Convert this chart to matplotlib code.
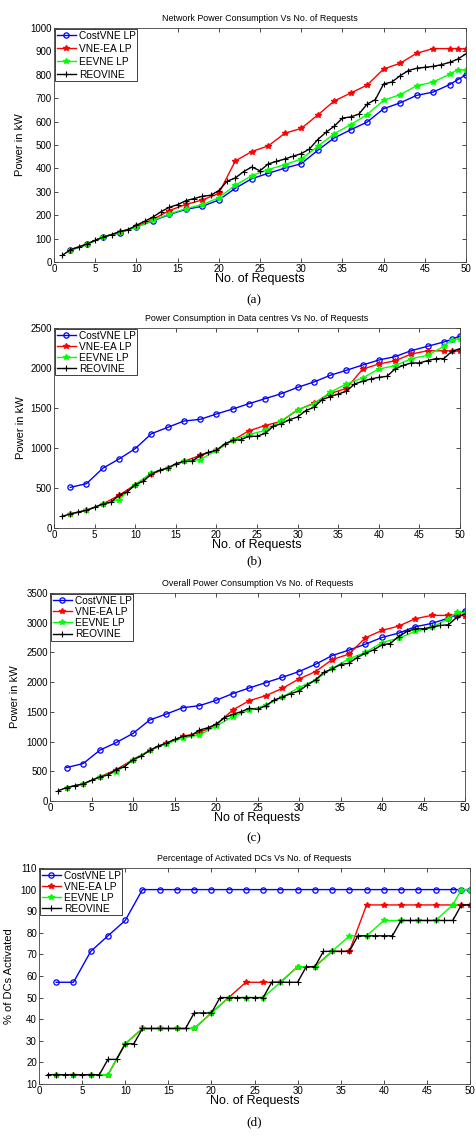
import matplotlib
matplotlib.use('Agg')
import matplotlib.pyplot as plt

plt.rcParams['font.family'] = ['Liberation Sans', 'DejaVu Sans']

# X VALUES: THE LP SCHEMES ARE MARKED ON EVEN REQUESTS (+49), REOVINE ON EVERY REQUEST
x_even = [2, 4, 6, 8, 10, 12, 14, 16, 18, 20, 22, 24, 26, 28, 30, 32, 34, 36, 38, 40,
          42, 44, 46, 48, 49, 50]
x_all = list(range(1, 51))

series_names = ['CostVNE LP', 'VNE-EA LP', 'EEVNE LP', 'REOVINE']

# (a) NETWORK POWER (kW)
net_cost = [50, 75, 108, 125, 150, 176, 203, 225, 238, 265, 315, 356, 379, 401, 420, 477,
            530, 565, 598, 655, 680, 712, 726, 758, 779, 800]
net_ea = [53, 77, 107, 128, 152, 182, 220, 246, 265, 293, 432, 472, 496, 550, 571, 628,
          688, 722, 756, 825, 849, 892, 912, 912, 912, 910]
net_eevne = [50, 75, 107, 128, 148, 178, 205, 228, 245, 275, 328, 369, 395, 416, 440, 494,
             548, 587, 630, 691, 715, 753, 769, 802, 822, 820]
net_reovine = [28, 53, 64, 77, 93, 107, 117, 131, 138, 157,
               174, 192, 215, 234, 245, 262, 271, 281, 285, 305,
               345, 359, 386, 406, 390, 419, 430, 440, 452, 463,
               483, 523, 554, 580, 615, 620, 632, 675, 694, 761,
               769, 796, 818, 828, 832, 836, 843, 853, 867, 890]

# (b) DATA CENTRE POWER (kW)
dc_cost = [508, 554, 746, 862, 992, 1179, 1258, 1337, 1358, 1425, 1487, 1554, 1617, 1679,
           1758, 1825, 1908, 1971, 2037, 2100, 2142, 2217, 2271, 2325, 2360, 2400]
dc_ea = [175, 221, 300, 408, 542, 675, 750, 833, 908, 971, 1096, 1215, 1280, 1335, 1475,
         1560, 1680, 1745, 1985, 2050, 2090, 2175, 2215, 2215, 2215, 2208]
dc_eevne = [175, 221, 300, 355, 542, 690, 750, 833, 855, 971, 1096, 1165, 1222, 1340, 1479,
            1550, 1696, 1800, 1875, 1987, 2029, 2117, 2158, 2271, 2354, 2362]
dc_reovine = [146, 175, 200, 221, 258, 300, 321, 408, 450, 542,
              583, 675, 721, 750, 804, 833, 833, 908, 946, 971,
              1050, 1096, 1104, 1146, 1146, 1183, 1271, 1304, 1354, 1388,
              1467, 1508, 1604, 1642, 1675, 1708, 1800, 1833, 1863, 1883,
              1896, 1988, 2033, 2063, 2063, 2092, 2117, 2117, 2208, 2242]

# (c) OVERALL POWER (kW)
all_cost = [563, 630, 855, 985, 1137, 1362, 1463, 1570, 1604, 1694, 1806, 1902, 1992, 2082,
            2178, 2301, 2448, 2538, 2639, 2752, 2825, 2932, 2988, 3078, 3134, 3202]
all_ea = [225, 287, 405, 529, 698, 850, 973, 1086, 1150, 1280, 1530, 1688, 1772, 1896,
          2054, 2178, 2380, 2470, 2746, 2870, 2943, 3067, 3123, 3123, 3134, 3117]
all_eevne = [225, 287, 405, 490, 698, 850, 960, 1060, 1110, 1260, 1420, 1530, 1610, 1750,
             1908, 2040, 2230, 2391, 2500, 2667, 2740, 2853, 2920, 3067, 3174, 3163]
all_reovine = [174, 225, 259, 287, 349, 405, 439, 529, 580, 698,
               754, 850, 923, 973, 1035, 1086, 1103, 1193, 1232, 1289,
               1401, 1457, 1502, 1559, 1542, 1604, 1699, 1750, 1806, 1851,
               1953, 2037, 2166, 2223, 2296, 2318, 2414, 2487, 2543, 2628,
               2650, 2768, 2853, 2898, 2898, 2926, 2954, 2965, 3089, 3146]

# (d) % OF DCs ACTIVATED
pct_cost = [57.1, 57.1, 71.4, 78.6, 85.7, 100, 100, 100, 100, 100, 100, 100, 100, 100,
            100, 100, 100, 100, 100, 100, 100, 100, 100, 100, 100, 100]
pct_ea = [14.3, 14.3, 14.3, 14.3, 28.6, 35.7, 35.7, 35.7, 35.7, 42.9, 50, 57.1, 57.1, 57.1,
          64.3, 64.3, 71.4, 71.4, 92.9, 92.9, 92.9, 92.9, 92.9, 92.9, 92.9, 92.9]
pct_eevne = [14.3, 14.3, 14.3, 14.3, 28.6, 35.7, 35.7, 35.7, 35.7, 42.9, 50, 50, 50, 57.1,
             64.3, 64.3, 71.4, 78.6, 78.6, 85.7, 85.7, 85.7, 85.7, 92.9, 100, 100]
pct_reovine = [14.3, 14.3, 14.3, 14.3, 14.3, 14.3, 14.3, 21.4, 21.4, 28.6,
               28.6, 35.7, 35.7, 35.7, 35.7, 35.7, 35.7, 42.9, 42.9, 42.9,
               50, 50, 50, 50, 50, 50, 57.1, 57.1, 57.1, 57.1,
               64.3, 64.3, 71.4, 71.4, 71.4, 71.4, 78.6, 78.6, 78.6, 78.6,
               78.6, 85.7, 85.7, 85.7, 85.7, 85.7, 85.7, 85.7, 92.9, 92.9]

W, H = 476, 1138
fig = plt.figure(figsize=(W / 100, H / 100), dpi=100)


# DRAWS ONE PANEL, BOX GIVEN IN PIXELS (LEFT, RIGHT, TOP, BOTTOM)
def panel(box, title, xlab, ylab, cost, ea, eevne, reovine, ylim, ystep, caption, cap_y,
          ylab_x, spacing):
    L, R, T, B = box
    ax = fig.add_axes([L / W, 1 - B / H, (R - L) / W, (B - T) / H])
    ax.plot(x_even, cost, '-o', color='#0000ff', mfc='none', ms=3.8, mew=0.9, lw=1.0,
            label=series_names[0])
    ax.plot(x_even, ea, '-*', color='#ff0000', ms=4.4, lw=1.0, label=series_names[1])
    ax.plot(x_even, eevne, '-*', color='#00ff00', ms=4.4, lw=1.0, label=series_names[2])
    ax.plot(x_all, reovine, '-+', color='black', ms=4.5, mew=0.8, lw=1.0,
            label=series_names[3])
    ax.set_xlim(0, 50)
    ax.set_ylim(*ylim)
    ax.set_xticks(range(0, 51, 5))
    ax.set_yticks(range(ylim[0], ylim[1] + 1, ystep))
    ax.tick_params(direction='in', top=True, right=True, length=3, width=0.5,
                   labelsize=7, pad=1.5)
    for s in ax.spines.values():
        s.set_color('#404040')
        s.set_linewidth(0.6)
    ax.set_title(title, fontsize=6.4, pad=5)
    ax.set_xlabel(xlab, fontsize=9)
    ax.set_ylabel(ylab, fontsize=8)
    ax.xaxis.label.set_va('center')
    ax.yaxis.label.set_va('center')
    ax.xaxis.set_label_coords(0.5, -17 / (B - T))
    ax.yaxis.set_label_coords((ylab_x - L) / (R - L), 0.5)
    leg = ax.legend(loc='upper left', fontsize=7.3, numpoints=1, handlelength=1.9,
                    handletextpad=0.3, borderpad=0.15, borderaxespad=0.1,
                    labelspacing=spacing, fancybox=False, framealpha=1, edgecolor='#202020')
    leg.get_frame().set_linewidth(0.6)
    fig.text(254 / W, 1 - cap_y / H, caption, ha='center', va='center', fontsize=9.5,
             family='Liberation Serif')
    return ax


panel((54, 466, 28, 262), 'Network Power Consumption Vs No. of Requests', 'No. of Requests',
      'Power in kW', net_cost, net_ea, net_eevne, net_reovine, (0, 1000), 100, '(a)', 300,
      20, 0.3)
panel((54, 460, 328, 528), 'Power Consumption in Data centres Vs No. of Requests',
      'No. of Requests', 'Power in kW', dc_cost, dc_ea, dc_eevne, dc_reovine, (0, 2500), 500,
      '(b)', 561, 21, 0.1)
panel((50, 465, 593, 801), 'Overall Power Consumption Vs No. of Requests', 'No of Requests',
      'Power in kW', all_cost, all_ea, all_eevne, all_reovine, (0, 3500), 500, '(c)', 838,
      15, 0.12)
panel((39, 470, 868, 1084), 'Percentage of Activated DCs Vs No. of Requests',
      'No. of Requests', '% of DCs Activated', pct_cost, pct_ea, pct_eevne, pct_reovine,
      (10, 110), 10, '(d)', 1122, 9, 0.1)

fig.savefig('out.png', dpi=100)
